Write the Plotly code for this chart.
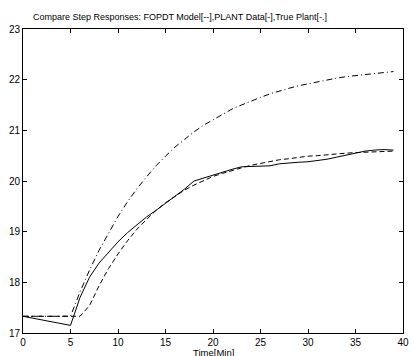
import plotly.graph_objects as go

# Plant data (solid)
t_plant = [0, 5, 6, 7, 8, 9, 10, 11, 12, 13, 14, 15, 16, 17, 18, 19, 20, 21, 22, 23,
           24, 25, 26, 27, 28, 29, 30, 31, 32, 33, 34, 35, 36, 37, 38, 39]
y_plant = [17.33, 17.15, 17.70, 18.10, 18.38, 18.60, 18.80, 18.98, 19.14, 19.29, 19.42,
           19.56, 19.70, 19.84, 20.00, 20.06, 20.11, 20.17, 20.23, 20.28, 20.29, 20.29,
           20.30, 20.34, 20.36, 20.37, 20.38, 20.40, 20.43, 20.47, 20.51, 20.56, 20.59,
           20.61, 20.62, 20.61]

# FOPDT model (dashed)
t_model = [0, 6, 7, 8, 9, 10, 11, 12, 13, 14, 15, 16, 17, 18, 19, 20, 21, 22, 23, 24,
           25, 26, 27, 28, 29, 30, 31, 32, 33, 34, 35, 36, 37, 38, 39]
y_model = [17.33, 17.33, 17.54, 17.93, 18.27, 18.56, 18.82, 19.05, 19.24, 19.42, 19.57,
           19.70, 19.82, 19.92, 20.01, 20.09, 20.15, 20.21, 20.26, 20.31, 20.35, 20.39,
           20.42, 20.44, 20.47, 20.49, 20.50, 20.52, 20.53, 20.55, 20.56, 20.57, 20.57,
           20.58, 20.59]

# True plant (dash-dot)
t_true = [0, 5, 6, 7, 8, 9, 10, 11, 12, 13, 14, 15, 16, 17, 18, 19, 20, 21, 22, 23, 24,
          25, 26, 27, 28, 29, 30, 31, 32, 33, 34, 35, 36, 37, 38, 39]
y_true = [17.33, 17.33, 17.81, 18.24, 18.63, 18.98, 19.30, 19.59, 19.85, 20.08, 20.30,
          20.49, 20.67, 20.82, 20.97, 21.10, 21.21, 21.32, 21.42, 21.50, 21.58, 21.65,
          21.72, 21.78, 21.83, 21.88, 21.92, 21.96, 21.99, 22.03, 22.06, 22.08, 22.11,
          22.13, 22.15, 22.16]

x_ticks = [0, 5, 10, 15, 20, 25, 30, 35, 40]
y_ticks = [17, 18, 19, 20, 21, 22, 23]

title_text = "Compare Step Responses: FOPDT Model[--],PLANT Data[-],True Plant[-.]"
xlabel_text = "Time[Min]"

FONT = "Liberation Sans, Arial, Helvetica, sans-serif"

fig = go.Figure()
fig.add_trace(go.Scatter(x=t_plant, y=y_plant, mode="lines",
                         line=dict(color="black", width=1), showlegend=False))
fig.add_trace(go.Scatter(x=t_model, y=y_model, mode="lines",
                         line=dict(color="black", width=1, dash="5px,3px"), showlegend=False))
fig.add_trace(go.Scatter(x=t_true, y=y_true, mode="lines",
                         line=dict(color="black", width=1, dash="6px,3px,1px,3px"), showlegend=False))

axis_common = dict(showgrid=False, zeroline=False, showline=True, linecolor="black",
                   linewidth=1, mirror="ticks", ticks="inside", ticklen=4,
                   tickcolor="black", tickwidth=1,
                   tickfont=dict(family=FONT, size=10, color="black"))

fig.update_layout(
    width=414, height=356,
    margin=dict(l=23, r=5, t=29, b=23),
    paper_bgcolor="white", plot_bgcolor="white",
    title=dict(text=title_text, x=0.413, xref="paper", xanchor="center",
               y=1 - 17 / 356, yref="container", yanchor="middle",
               font=dict(family=FONT, size=9, color="black")),
    xaxis=dict(range=[0, 40], tickvals=x_ticks, ticktext=[str(v) for v in x_ticks],
               ticklabeloverflow="allow", **axis_common),
    yaxis=dict(range=[17, 23], tickvals=y_ticks, ticktext=[str(v) for v in y_ticks], **axis_common),
    annotations=[dict(text=xlabel_text, xref="paper", yref="paper", x=0.5, y=-19 / 304,
                      xanchor="center", yanchor="middle", showarrow=False,
                      font=dict(family=FONT, size=9.5, color="black"))],
)

fig.write_html("out.html")
